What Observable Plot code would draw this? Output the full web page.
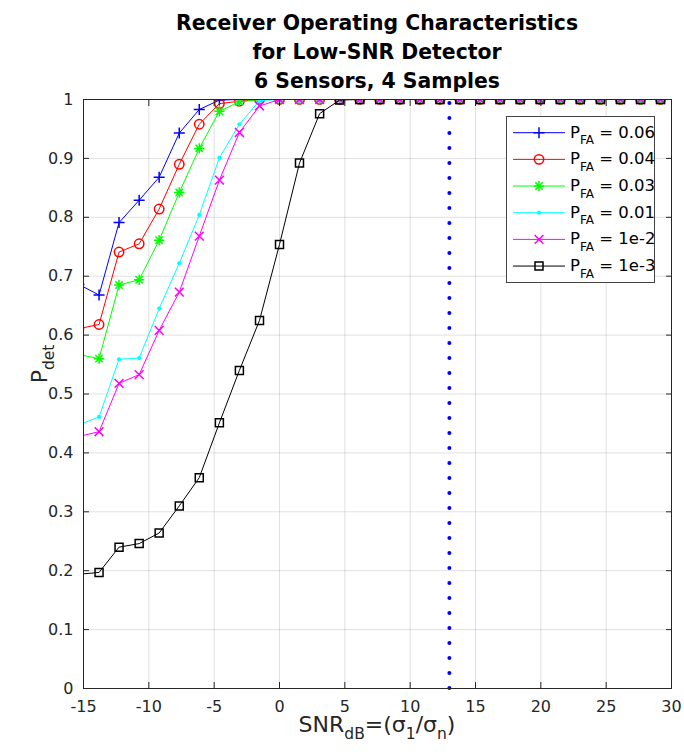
<!DOCTYPE html>
<html>
<head>
<meta charset="utf-8">
<script src="https://cdn.jsdelivr.net/npm/d3@7"></script>
<script src="https://cdn.jsdelivr.net/npm/@observablehq/plot@0.6"></script>
<style>
  html, body { margin: 0; padding: 0; background: #fff; }
  #chart { width: 684px; height: 756px; }
</style>
</head>
<body>
<div id="chart"></div>
<script>
// ---- Data ----
const snrDb = [-15.35, -13.81, -12.28, -10.74, -9.21, -7.67, -6.14, -4.60, -3.07, -1.53,
  0, 1.53, 3.07, 4.60, 6.14, 7.67, 9.21, 10.74, 12.28, 13.81,
  15.35, 16.88, 18.42, 19.95, 21.49, 23.02, 24.56, 26.09, 27.63, 29.16];

const pfaLabels = ["0.06", "0.04", "0.03", "0.01", "1e-2", "1e-3"];

const pdet006 = [0.686, 0.668, 0.791, 0.829, 0.868, 0.943, 0.983, 0.999, 1, 1,
  1, 1, 1, 1, 1, 1, 1, 1, 1, 1,
  1, 1, 1, 1, 1, 1, 1, 1, 1, 1];
const pdet004 = [0.611, 0.618, 0.741, 0.755, 0.814, 0.890, 0.958, 0.993, 0.997, 1,
  1, 1, 1, 1, 1, 1, 1, 1, 1, 1,
  1, 1, 1, 1, 1, 1, 1, 1, 1, 1];
const pdet003 = [0.567, 0.560, 0.685, 0.694, 0.761, 0.842, 0.917, 0.980, 0.996, 1,
  1, 1, 1, 1, 1, 1, 1, 1, 1, 1,
  1, 1, 1, 1, 1, 1, 1, 1, 1, 1];
const pdet001 = [0.448, 0.461, 0.559, 0.561, 0.645, 0.722, 0.804, 0.901, 0.958, 0.998,
  1, 1, 1, 1, 1, 1, 1, 1, 1, 1,
  1, 1, 1, 1, 1, 1, 1, 1, 1, 1];
const pdet1em2 = [0.428, 0.436, 0.518, 0.533, 0.608, 0.673, 0.768, 0.863, 0.944, 0.989,
  1, 1, 1, 1, 1, 1, 1, 1, 1, 1,
  1, 1, 1, 1, 1, 1, 1, 1, 1, 1];
const pdet1em3 = [0.194, 0.197, 0.240, 0.246, 0.264, 0.310, 0.358, 0.451, 0.540, 0.625,
  0.754, 0.892, 0.976, 0.999, 1, 1, 1, 1, 1, 1,
  1, 1, 1, 1, 1, 1, 1, 1, 1, 1];

const thresholdDb = [13];
const xTicks = [-15, -10, -5, 0, 5, 10, 15, 20, 25, 30];
const yTicks = [0, 0.1, 0.2, 0.3, 0.4, 0.5, 0.6, 0.7, 0.8, 0.9, 1];
const titleLines = ["Receiver Operating Characteristics", "for Low-SNR Detector", "6 Sensors, 4 Samples"];

// ---- Styles ----
const FONT = "DejaVu Sans";
const AXIS_COLOR = "#262626";
const colors = ["#0000ff", "#ff0000", "#00ff00", "#00ffff", "#ff00ff", "#000000"];

const symPlus = {draw(c) { const r = 5.5; c.moveTo(-r, 0); c.lineTo(r, 0); c.moveTo(0, -r); c.lineTo(0, r); }};
const symCircle = {draw(c) { const r = 4.7; c.moveTo(r, 0); c.arc(0, 0, r, 0, 2 * Math.PI); }};
const symAst = {draw(c) { const r = 5.2, d = r * 0.7071; c.moveTo(-r, 0); c.lineTo(r, 0); c.moveTo(0, -r); c.lineTo(0, r); c.moveTo(-d, -d); c.lineTo(d, d); c.moveTo(-d, d); c.lineTo(d, -d); }};
const symPoint = {draw(c) { const r = 2.1; c.moveTo(r, 0); c.arc(0, 0, r, 0, 2 * Math.PI); }};
const symTimes = {draw(c) { const r = 4.4; c.moveTo(-r, -r); c.lineTo(r, r); c.moveTo(-r, r); c.lineTo(r, -r); }};
const symSquare = {draw(c) { const r = 4; c.rect(-r, -r, 2 * r, 2 * r); }};
const symbols = [symPlus, symCircle, symAst, symPoint, symTimes, symSquare];
const filled = [false, false, false, true, false, false];

const seriesValues = [pdet006, pdet004, pdet003, pdet001, pdet1em2, pdet1em3];
const seriesRows = seriesValues.map(vals => snrDb.map((x, i) => ({x, y: vals[i]})));

const seriesMarks = seriesRows.flatMap((rows, k) => [
  Plot.line(rows, {x: "x", y: "y", stroke: colors[k], strokeWidth: 1, clip: true}),
  Plot.dot(rows, {
    x: "x", y: "y", symbol: symbols[k], r: 5, clip: true,
    stroke: filled[k] ? "none" : colors[k],
    fill: filled[k] ? colors[k] : "none",
    strokeWidth: 1.5
  })
]);

const W = 684, H = 756;
const chart = Plot.plot({
  width: W,
  height: H,
  marginLeft: 83,
  marginRight: 13,
  marginTop: 99,
  marginBottom: 68,
  style: {fontFamily: FONT, fontSize: "16px", background: "#fff", color: AXIS_COLOR},
  x: {domain: [-15, 30]},
  y: {domain: [0, 1]},
  marks: [
    Plot.gridX(xTicks, {stroke: "#000", strokeOpacity: 0.12}),
    Plot.gridY(yTicks, {stroke: "#000", strokeOpacity: 0.12}),
    ...seriesMarks,
    Plot.ruleX(thresholdDb, {x: d => d, y1: 0, y2: 1, stroke: "#0000ff", strokeWidth: 4,
      strokeDasharray: "0 15", strokeLinecap: "round"}),
    Plot.frame({stroke: AXIS_COLOR, strokeWidth: 1}),
    Plot.axisX({anchor: "bottom", ticks: xTicks, tickSize: -6, tickPadding: 18, label: null,
      tickFormat: d => String(d), stroke: AXIS_COLOR, fill: AXIS_COLOR, fontSize: 16}),
    Plot.axisX({anchor: "top", ticks: xTicks, tickSize: -6, label: null, stroke: AXIS_COLOR, fill: "none"}),
    Plot.axisY({anchor: "left", ticks: yTicks, tickSize: -6, tickPadding: 16, label: null,
      tickFormat: d => String(d), stroke: AXIS_COLOR, fill: AXIS_COLOR, fontSize: 16}),
    Plot.axisY({anchor: "right", ticks: yTicks, tickSize: -6, label: null, stroke: AXIS_COLOR, fill: "none"})
  ]
});
document.getElementById("chart").appendChild(chart);

// ---- Titles, labels, legend ----
const svg = d3.select(chart);

const title = svg.append("g").attr("font-family", FONT).attr("font-weight", "bold")
  .attr("font-size", 20.4).attr("fill", "#000").attr("text-anchor", "middle");
titleLines.forEach((line, i) => {
  title.append("text").attr("x", 377).attr("y", 30 + i * 29).text(line);
});

const xl = svg.append("text").attr("x", 377).attr("y", 732).attr("text-anchor", "middle")
  .attr("font-family", FONT).attr("font-size", 22).attr("fill", AXIS_COLOR);
xl.append("tspan").text("SNR");
xl.append("tspan").attr("dy", 7).attr("font-size", 15.5).text("dB");
xl.append("tspan").attr("dy", -7).text("=(σ");
xl.append("tspan").attr("dy", 7).attr("font-size", 15.5).text("1");
xl.append("tspan").attr("dy", -7).text("/σ");
xl.append("tspan").attr("dy", 7).attr("font-size", 15.5).text("n");
xl.append("tspan").attr("dy", -7).text(")");

const yl = svg.append("text").attr("transform", "translate(47,364) rotate(-90)").attr("text-anchor", "middle")
  .attr("font-family", FONT).attr("font-size", 22).attr("fill", AXIS_COLOR);
yl.append("tspan").text("P");
yl.append("tspan").attr("dy", 7).attr("font-size", 15.5).text("det");

const lg = svg.append("g");
lg.append("rect").attr("x", 506.5).attr("y", 116.5).attr("width", 148).attr("height", 166)
  .attr("fill", "#fff").attr("stroke", "#444").attr("stroke-width", 1);
pfaLabels.forEach((lab, k) => {
  const y = 132.7 + k * 26.67;
  lg.append("line").attr("x1", 513).attr("x2", 565).attr("y1", y).attr("y2", y)
    .attr("stroke", colors[k]).attr("stroke-width", 1);
  lg.append("path").attr("transform", `translate(539,${y})`).attr("d", d3.symbol(symbols[k])())
    .attr("stroke", filled[k] ? "none" : colors[k]).attr("fill", filled[k] ? colors[k] : "none")
    .attr("stroke-width", 1.5);
  const t = lg.append("text").attr("x", 570).attr("y", y + 5).attr("text-anchor", "start")
    .attr("font-family", FONT).attr("font-size", 16.5).attr("fill", "#000");
  t.append("tspan").text("P");
  t.append("tspan").attr("dy", 6.5).attr("font-size", 12).text("FA");
  t.append("tspan").attr("dy", -6.5).text(" = " + lab);
});
</script>
</body>
</html>
